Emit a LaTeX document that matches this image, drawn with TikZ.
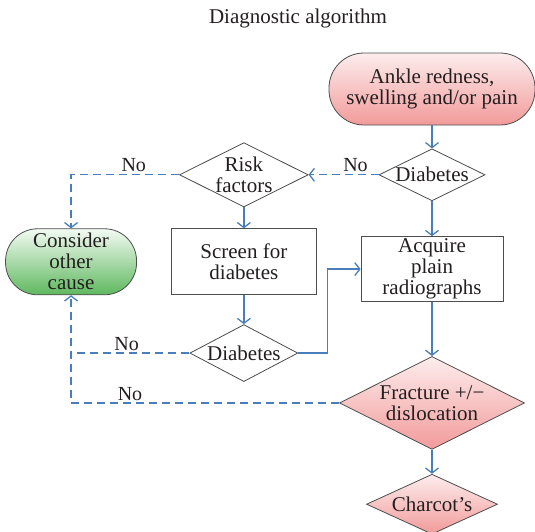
\documentclass[tikz,border=0pt]{standalone}
\usepackage{fontspec}
\setmainfont{Liberation Serif}
\usetikzlibrary{positioning,arrows.meta,shapes.geometric}
\definecolor{flowblue}{HTML}{4A7EBB}
\definecolor{edgegray}{HTML}{4D4D4D}
\definecolor{txtcol}{HTML}{231F20}
\definecolor{pinkhi}{HTML}{FDEDED}
\definecolor{pinklo}{HTML}{F29A9A}
\definecolor{greenhi}{HTML}{F3FAF3}
\definecolor{greenlo}{HTML}{5FB85F}

\begin{document}
\begin{tikzpicture}[
  font=\fontsize{21pt}{21pt}\selectfont,
  text=txtcol,
  box/.style={draw=edgegray, line width=0.8pt, fill=white, align=center, inner sep=0pt},
  pill/.style={box, rounded corners=#1},
  decide/.style={box, diamond, aspect=2},
  pinkfill/.style={top color=pinkhi, bottom color=pinklo},
  greenfill/.style={top color=greenhi, bottom color=greenlo},
  arr/.style={-{Straight Barb[length=5pt, width=13pt]}, line width=1.3pt, draw=flowblue},
  noarr/.style={arr, dash pattern=on 8pt off 5pt, line width=1.3pt},
  lbl/.style={font=\fontsize{20pt}{20pt}\selectfont, inner sep=2pt},
]
\useasboundingbox (0,0) rectangle (535pt,-531pt);

\node (title) at (298pt,-18pt) {Diagnostic algorithm};

% ─── main column (right) ───────────────────────────────────────────────────
\node[pill=35pt, pinkfill, minimum width=206pt, minimum height=72pt] (ankle)
  at (432pt,-89pt) {Ankle redness,\\swelling and/or pain};
\node[decide, minimum width=106pt, minimum height=52pt, below=23pt of ankle] (diab1)
  {Diabetes};
\node[box, minimum width=142pt, minimum height=65pt, below=35pt of diab1] (xray)
  {Acquire\\plain\\radiographs};
\node[decide, pinkfill, minimum width=185pt, minimum height=93pt, below=54pt of xray] (fract)
  {Fracture +/−\\dislocation};
\node[decide, pinkfill, aspect=2.18, minimum width=131pt, minimum height=60pt, below=24pt of fract] (charcot)
  {Charcot’s};

\draw[arr] (ankle) -- (diab1);
\draw[arr] (diab1) -- (xray);
\draw[arr] (xray) -- (fract);
\draw[arr] (fract) -- (charcot);

% ─── middle column ─────────────────────────────────────────────────────────
\node[decide, minimum width=127pt, minimum height=64pt, left=70pt of diab1] (risk)
  {Risk\\factors};
\node[box, minimum width=145pt, minimum height=66pt, below=21pt of risk] (screen)
  {Screen for\\diabetes};
\node[decide, minimum width=108pt, minimum height=57pt, below=29pt of screen] (diab2)
  {Diabetes};

\draw[arr] (risk) -- (screen);
\draw[arr] (screen) -- (diab2);
\draw[arr] (diab2.east) -- ++(29pt,0) |- (xray.west);

% ─── other cause (left) ────────────────────────────────────────────────────
\node[pill=32pt, greenfill, minimum width=131pt, minimum height=66pt, left=34pt of screen] (other)
  {Consider\\other\\cause};

\draw[noarr] (diab1.west) -- node[lbl, above, pos=0.33]{No} (risk.east);
\draw[noarr] (risk.west) -| node[lbl, above, pos=0.21]{No} (other.north);
\draw[noarr, -] (diab2.west) -- node[lbl, above, pos=0.53]{No} (diab2.west -| other.south);
\draw[noarr] (fract.west) -| node[lbl, above, pos=0.39]{No} (other.south);

\end{tikzpicture}
\end{document}
